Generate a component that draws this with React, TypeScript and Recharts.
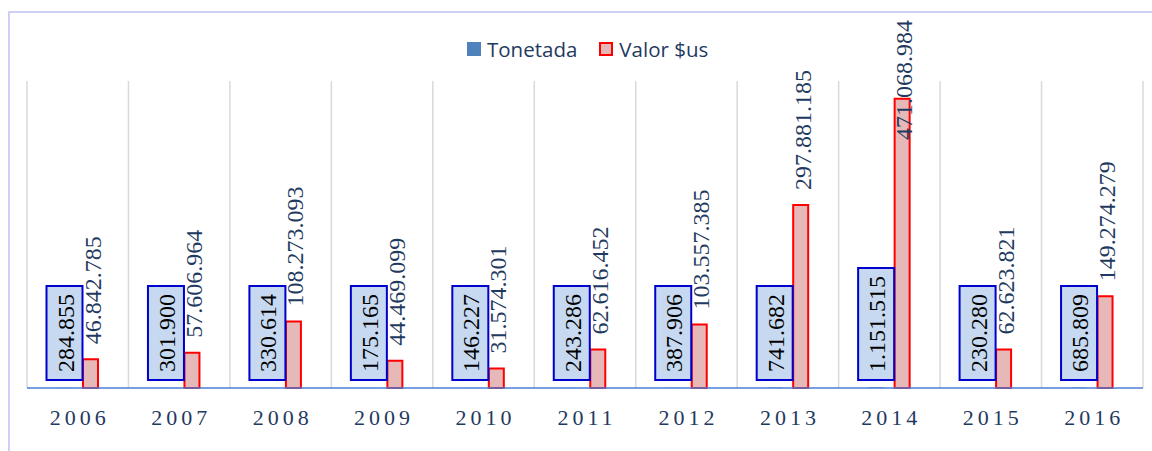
import React from "react";
import { Bar, BarChart, CartesianGrid, LabelList, XAxis, YAxis } from "recharts";

const years = ["2006", "2007", "2008", "2009", "2010", "2011", "2012", "2013", "2014", "2015", "2016"];
const tonetada = [284855, 301900, 330614, 175165, 146227, 243286, 387906, 741682, 1151515, 230280, 685809];
const valorUs = [
  46842785, 57606964, 108273093, 44469099, 31574301, 62616452, 103557385, 297881185, 471068984, 62623821,
  149274279,
];
const yDomain = [0, 500000000];

const data = years.map((year, i) => ({ year, tonetada: tonetada[i], valor: valorUs[i] }));

const SERIF = '"Liberation Serif", "Times New Roman", serif';
const SANS = '"Open Sans", "Liberation Sans", sans-serif';
const NAVY = "#1f3a60";

const fmt = (v: number) => String(v).replace(/\B(?=(\d{3})+(?!\d))/g, ".");
// rough text length at 24px Times: digits 12px, dots 6px
const textLen = (s: string) => s.split("").reduce((acc, c) => acc + (c === "." ? 6 : 12), 0);

function ToneLabel(props: any) {
  const { x, y, width, height, value } = props;
  const s = fmt(Number(value));
  const cx = Number(x) + Number(width) / 2;
  const base = Number(y) + Number(height) - 8;
  const h = textLen(s) + 16;
  return (
    <g>
      <rect x={cx - 18} y={base - h} width={36} height={h} fill="#c6d9f0" stroke="#0000cc" strokeWidth={2} />
      <text
        transform={`translate(${cx + 9},${base - h / 2}) rotate(-90)`}
        textAnchor="middle"
        style={{ fontFamily: SERIF, fontSize: 24 }}
        fill="#000"
      >
        {s}
      </text>
    </g>
  );
}

function ValorLabel(props: any) {
  const { x, y, width, value } = props;
  const s = fmt(Number(value));
  const len = textLen(s);
  const cx = Number(x) + Number(width) / 2 + 10;
  let start = Number(y) - 15;
  if (start - len < 20) start = 20 + len;
  return (
    <text
      transform={`translate(${cx},${start}) rotate(-90)`}
      textAnchor="start"
      style={{ fontFamily: SERIF, fontSize: 24 }}
      fill={NAVY}
    >
      {s}
    </text>
  );
}

function YearTick(props: any) {
  const { x, y, payload } = props;
  return (
    <text
      x={x + 2}
      y={y + 29}
      textAnchor="middle"
      style={{ fontFamily: SERIF, fontSize: 22, letterSpacing: 4 }}
      fill={NAVY}
    >
      {payload.value}
    </text>
  );
}

export default function App() {
  return (
    <div style={{ position: "relative", width: 1152, height: 451, overflow: "hidden", background: "#fff" }}>
      <style>{`body{margin:0}`}</style>
      <div
        style={{
          position: "absolute",
          left: 8,
          top: 11,
          width: 1300,
          height: 600,
          borderLeft: "2px solid #cfd0f5",
          borderTop: "2px solid #cfd0f5",
        }}
      />
      <div
        style={{
          position: "absolute",
          top: 35,
          left: 467,
          display: "flex",
          alignItems: "center",
          fontFamily: SANS,
          fontSize: 20.5,
          color: NAVY,
          whiteSpace: "nowrap",
        }}
      >
        <span style={{ width: 14, height: 14, background: "#4f81bd", display: "inline-block", marginRight: 6 }} />
        <span style={{ marginRight: 22 }}>Tonetada</span>
        <span
          style={{
            width: 10,
            height: 10,
            background: "#e6b9b8",
            border: "2px solid #ff0000",
            display: "inline-block",
            marginRight: 6,
          }}
        />
        <span>Valor $us</span>
      </div>
      <BarChart
        width={1152}
        height={451}
        data={data}
        margin={{ top: 81, right: 9, left: 27, bottom: 23 }}
        barSize={15}
        barGap={11}
        style={{ position: "absolute", left: 0, top: 0 }}
      >
        <CartesianGrid
          horizontal={false}
          stroke="#d9d9d9"
          strokeWidth={1.5}
          verticalCoordinatesGenerator={({ offset }: any) =>
            years.map((_, i) => offset.left + (i * offset.width) / years.length).concat(offset.left + offset.width)
          }
        />
        <XAxis
          dataKey="year"
          height={40}
          axisLine={{ stroke: "#4a7fd4", strokeWidth: 1.5 }}
          tickLine={false}
          interval={0}
          tick={<YearTick />}
        />
        <YAxis hide domain={yDomain} />
        <Bar dataKey="tonetada" fill="#4f81bd" isAnimationActive={false}>
          <LabelList dataKey="tonetada" content={<ToneLabel />} />
        </Bar>
        <Bar dataKey="valor" fill="#e6b9b8" stroke="#ff0000" strokeWidth={2} isAnimationActive={false}>
          <LabelList dataKey="valor" content={<ValorLabel />} />
        </Bar>
      </BarChart>
    </div>
  );
}
